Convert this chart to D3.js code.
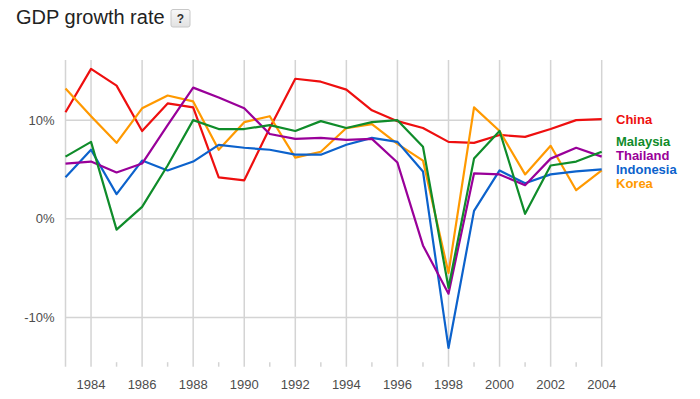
<!DOCTYPE html>
<html>
<head>
<meta charset="utf-8">
<script src="https://cdn.jsdelivr.net/npm/d3@7"></script>
<style>
  html, body { margin: 0; padding: 0; background: #fff; }
  body { font-family: "Liberation Sans", Arial, sans-serif; }
</style>
</head>
<body>
<div id="chart"></div>
<script>
const years = d3.range(1983, 2005);
const yTicks = [-10, 0, 10];

const china     = [10.8, 15.2, 13.5, 8.9, 11.7, 11.3, 4.2, 3.9, 9.2, 14.2, 13.9, 13.1, 11.0, 9.9, 9.2, 7.8, 7.7, 8.5, 8.3, 9.1, 10.0, 10.1];
const malaysia  = [6.3, 7.8, -1.1, 1.2, 5.4, 10.0, 9.1, 9.1, 9.5, 8.9, 9.9, 9.2, 9.8, 10.0, 7.3, -7.0, 6.1, 8.9, 0.5, 5.4, 5.8, 6.8];
const thailand  = [5.6, 5.8, 4.7, 5.6, 9.5, 13.3, 12.3, 11.2, 8.6, 8.1, 8.2, 8.0, 8.1, 5.7, -2.7, -7.6, 4.6, 4.5, 3.4, 6.1, 7.2, 6.3];
const indonesia = [4.2, 7.0, 2.5, 5.9, 4.9, 5.8, 7.5, 7.2, 7.0, 6.5, 6.5, 7.5, 8.2, 7.8, 4.8, -13.1, 0.8, 4.9, 3.6, 4.5, 4.8, 5.0];
const korea     = [13.2, 10.4, 7.7, 11.2, 12.5, 11.9, 7.0, 9.8, 10.4, 6.2, 6.8, 9.2, 9.6, 7.6, 5.9, -5.5, 11.3, 8.9, 4.5, 7.4, 2.9, 4.9];

const series = [
  { name: "China", values: china, color: "#ee0f0f" },
  { name: "Korea", values: korea, color: "#ff9900" },
  { name: "Indonesia", values: indonesia, color: "#0c62cc" },
  { name: "Thailand", values: thailand, color: "#990099" },
  { name: "Malaysia", values: malaysia, color: "#0f8c2a" }
];

const svgWidth = 700;
const svgHeight = 399;
const plot = { left: 65.5, right: 601.7, top: 60, bottom: 366.7 };

const svg = d3.select("#chart")
  .append("svg")
  .attr("width", svgWidth)
  .attr("height", svgHeight);

// title and help button
svg.append("text")
  .attr("x", 16)
  .attr("y", 24)
  .attr("font-size", "20px")
  .attr("fill", "#222")
  .text("GDP growth rate");

const grad = svg.append("defs").append("linearGradient")
  .attr("id", "btn")
  .attr("x1", 0).attr("y1", 0).attr("x2", 0).attr("y2", 1);
grad.append("stop").attr("offset", "0%").attr("stop-color", "#f8f8f8");
grad.append("stop").attr("offset", "100%").attr("stop-color", "#e2e2e2");

svg.append("rect")
  .attr("x", 171)
  .attr("y", 9.5)
  .attr("width", 19)
  .attr("height", 17.5)
  .attr("rx", 2)
  .attr("fill", "url(#btn)")
  .attr("stroke", "#c8c8c8");

svg.append("text")
  .attr("x", 180.5)
  .attr("y", 22.5)
  .attr("text-anchor", "middle")
  .attr("font-size", "12px")
  .attr("font-weight", "bold")
  .attr("fill", "#333")
  .text("?");

const x = d3.scaleLinear()
  .domain([1983, 2004])
  .range([plot.left, plot.right]);

const y = d3.scaleLinear()
  .domain([-15, 16.1])
  .range([plot.bottom, plot.top]);

// grid
const grid = svg.append("g").attr("stroke", "#d4d4d4").attr("stroke-width", 1.5);

grid.selectAll(".hgrid")
  .data(yTicks)
  .enter().append("line")
  .attr("x1", plot.left)
  .attr("x2", plot.right)
  .attr("y1", d => y(d))
  .attr("y2", d => y(d));

grid.selectAll(".vgrid")
  .data(years)
  .enter().append("line")
  .attr("x1", d => x(d))
  .attr("x2", d => x(d))
  .attr("y1", d => (d % 2 === 0 || d === 1983) ? plot.top : plot.bottom - 4.5)
  .attr("y2", plot.bottom);

// axis labels
svg.selectAll(".ylab")
  .data(yTicks)
  .enter().append("text")
  .attr("x", 54.5)
  .attr("y", d => y(d))
  .attr("dy", "0.36em")
  .attr("text-anchor", "end")
  .attr("font-size", "13px")
  .attr("fill", "#4d4d4d")
  .text(d => d + "%");

svg.selectAll(".xlab")
  .data(years.filter(d => d % 2 === 0))
  .enter().append("text")
  .attr("x", d => x(d))
  .attr("y", 389)
  .attr("text-anchor", "middle")
  .attr("font-size", "13px")
  .attr("fill", "#4d4d4d")
  .text(d => d);

// lines
const line = d3.line()
  .x((d, i) => x(years[i]))
  .y(d => y(d));

svg.selectAll(".series")
  .data(series)
  .enter().append("path")
  .attr("fill", "none")
  .attr("stroke", d => d.color)
  .attr("stroke-width", 2.2)
  .attr("stroke-linejoin", "round")
  .attr("d", d => line(d.values));

// end labels, spread apart where they collide
const labels = series.map(s => ({ s: s, target: y(s.values[s.values.length - 1]) }))
  .sort((a, b) => a.target - b.target);
const gap = 14;
let clusters = labels.map(l => ({ items: [l], mean: l.target }));
let merged = true;
while (merged) {
  merged = false;
  for (let i = 0; i < clusters.length - 1; i++) {
    const a = clusters[i], b = clusters[i + 1];
    const aEnd = a.mean + (a.items.length - 1) * gap / 2;
    const bStart = b.mean - (b.items.length - 1) * gap / 2;
    if (bStart - aEnd < gap) {
      const items = a.items.concat(b.items);
      clusters.splice(i, 2, { items: items, mean: d3.mean(items, d => d.target) });
      merged = true;
      break;
    }
  }
}
clusters.forEach(c => {
  c.items.forEach((l, i) => { l.pos = c.mean + (i - (c.items.length - 1) / 2) * gap; });
});

svg.selectAll(".label")
  .data(labels)
  .enter().append("text")
  .attr("x", 616)
  .attr("y", d => d.pos)
  .attr("dy", "0.36em")
  .attr("font-size", "13px")
  .attr("font-weight", "bold")
  .attr("fill", d => d.s.color)
  .text(d => d.s.name);
</script>
</body>
</html>
